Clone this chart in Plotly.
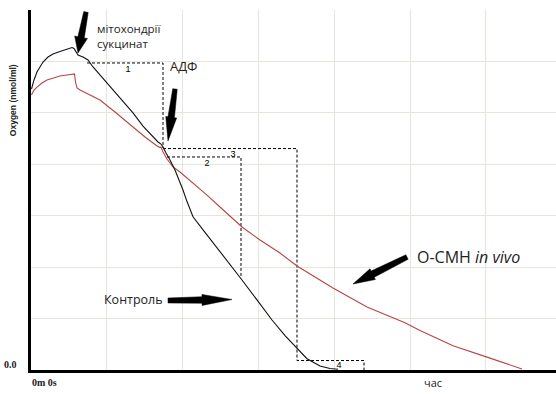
import math
import plotly.graph_objects as go

# ---- data (time in minutes, oxygen in nmol/ml) ----
control_t = [0.013, 0.079, 0.158, 0.317, 0.449, 0.580, 0.765, 0.950, 1.082, 1.135, 1.187, 1.240,
             1.372, 1.504, 1.636, 1.821, 2.084, 2.401, 2.691, 2.955, 3.219, 3.351, 3.430, 3.483,
             3.562, 3.668, 3.799, 3.931, 4.010, 4.114, 4.274, 4.565, 4.855, 5.198, 5.567,
             5.963, 6.359, 6.702, 7.018, 7.282, 7.625, 7.889, 8.100]
control_o2 = [273.2, 282.0, 289.7, 299.4, 304.3, 307.2, 309.6, 311.6, 313.5, 312.6, 309.2, 306.2,
              304.3, 301.4, 294.6, 286.9, 275.1, 262.5, 249.9, 237.2, 226.5, 221.7, 219.7, 216.8,
              210.9, 204.2, 194.4, 182.8, 175.0, 164.0, 149.0, 135.1, 121.5, 105.0, 87.5,
              68.1, 48.6, 33.5, 21.0, 11.0, 3.9, 1.5, 0.7]

ocmh_t = [0.013, 0.079, 0.158, 0.290, 0.422, 0.580, 0.765, 0.950, 1.108, 1.148, 1.174, 1.214,
          1.293, 1.557, 1.821, 2.216, 2.691, 3.008, 3.325, 3.404, 3.430, 3.483, 3.588, 3.747,
          3.931, 4.274, 4.644, 4.987, 5.567, 6.042, 6.570, 7.018, 7.625, 7.968, 8.865, 9.868,
          10.264, 11.135, 12.032, 12.955]
ocmh_o2 = [267.4, 272.2, 275.1, 279.0, 281.9, 283.9, 285.8, 286.8, 287.8, 287.8, 280.0, 274.2,
           272.2, 267.4, 262.5, 250.8, 236.2, 226.5, 217.8, 216.3, 216.8, 211.9, 205.1, 197.4,
           192.5, 181.8, 170.1, 158.5, 139.0, 126.4, 113.7, 101.1, 87.5, 79.7, 61.2, 46.0,
           38.5, 23.5, 12.5, 1.0]

# rate-measurement guide lines (state 1, state 3 / 2, state 4)
rate1_t = [1.478, 3.483, 3.483]
rate1_o2 = [298.5, 298.5, 215.8]
rate23_t = [3.588, 5.541, 5.541]
rate23_o2 = [207.1, 207.1, 89.4]
rate4_t = [3.483, 7.018, 7.018, 8.786, 8.786]
rate4_o2 = [215.3, 215.3, 9.2, 9.2, 0.0]

rate_labels = ["1", "2", "3", "4"]
rate_label_t = [2.559, 4.644, 5.330, 8.127]
rate_label_o2 = [291.7, 200.3, 209.0, 3.9]

X_RANGE = [0, 13.852]
Y_RANGE = [0, 350]

W, H = 556, 394
ML, MR, MT, MB = 31, 0, 10, 24
PW, PH = W - ML - MR, H - MT - MB

fig = go.Figure()

dash_style = dict(color="black", width=1, dash="3px,2px")
for tt, oo in [(rate1_t, rate1_o2), (rate23_t, rate23_o2), (rate4_t, rate4_o2)]:
    fig.add_trace(go.Scatter(x=tt, y=oo, mode="lines", line=dash_style,
                             hoverinfo="skip", showlegend=False))

fig.add_trace(go.Scatter(x=ocmh_t, y=ocmh_o2, mode="lines",
                         line=dict(color="#b84545", width=1.1), showlegend=False))
fig.add_trace(go.Scatter(x=control_t, y=control_o2, mode="lines",
                         line=dict(color="#111111", width=1.1), showlegend=False))

fig.add_trace(go.Scatter(x=rate_label_t, y=rate_label_o2, mode="text", text=rate_labels,
                         textfont=dict(family="Liberation Sans", size=9, color="black"),
                         showlegend=False, hoverinfo="skip"))


def px_to_paper(px, py):
    return (px - ML) / PW, (MT + PH - py) / PH


def arrow_shape(tail, tip, w_tail, w_neck, head_w, head_len):
    dx, dy = tip[0] - tail[0], tip[1] - tail[1]
    L = math.hypot(dx, dy)
    ux, uy = dx / L, dy / L
    nx, ny = -uy, ux
    neck = (tip[0] - ux * head_len, tip[1] - uy * head_len)
    pts = [
        (tail[0] + nx * w_tail / 2, tail[1] + ny * w_tail / 2),
        (neck[0] + nx * w_neck / 2, neck[1] + ny * w_neck / 2),
        (neck[0] + nx * head_w / 2, neck[1] + ny * head_w / 2),
        tip,
        (neck[0] - nx * head_w / 2, neck[1] - ny * head_w / 2),
        (neck[0] - nx * w_neck / 2, neck[1] - ny * w_neck / 2),
        (tail[0] - nx * w_tail / 2, tail[1] - ny * w_tail / 2),
    ]
    pp = [px_to_paper(*p) for p in pts]
    path = "M " + " L ".join(f"{a:.5f},{b:.5f}" for a, b in pp) + " Z"
    return dict(type="path", xref="paper", yref="paper", path=path,
                fillcolor="black", line=dict(color="black", width=0.5), layer="above")


shapes = [
    arrow_shape((86, 12), (78, 53), 4.5, 6.5, 13, 16),
    arrow_shape((175, 89), (168, 141), 4.5, 6.5, 11, 24),
    arrow_shape((168, 300.5), (232, 299.5), 5, 6.5, 11, 30),
    arrow_shape((407, 257), (353, 284), 5, 7, 12, 22),
]

annotations = [
    dict(x=1.689, y=325.0, text="мітохондрії<br>сукцинат", xanchor="left", yanchor="middle",
         align="left", showarrow=False, font=dict(family="Open Sans", size=11.5, color="#222222")),
    dict(x=3.615, y=295.5, text="АДФ", xanchor="left", yanchor="middle",
         showarrow=False, font=dict(family="Open Sans", size=13, color="#222222")),
    dict(x=1.873, y=68.1, text="Контроль", xanchor="left", yanchor="middle",
         showarrow=False, font=dict(family="Open Sans", size=12.5, color="#222222")),
    dict(x=10.132, y=109.9, text="О-СМН <i>in vivo</i>", xanchor="left", yanchor="middle",
         showarrow=False, font=dict(family="Open Sans", size=16, color="#222222")),
    # axis texts
    dict(xref="paper", yref="paper", x=-0.023, y=0.014, text="<b>0.0</b>", xanchor="right",
         yanchor="middle", showarrow=False,
         font=dict(family="Liberation Serif", size=10, color="#222222")),
    dict(xref="paper", yref="paper", x=-0.002, y=-0.036, text="<b>0m 0s</b>", xanchor="left",
         yanchor="middle", showarrow=False,
         font=dict(family="Liberation Serif", size=10, color="#222222")),
    dict(xref="paper", yref="paper", x=0.745, y=-0.036, text="час", xanchor="left",
         yanchor="middle", showarrow=False,
         font=dict(family="Open Sans", size=11, color="#222222")),
    dict(xref="paper", yref="paper", x=-0.034, y=0.750, text="<b>Oxygen (nmol/ml)</b>",
         textangle=-90, xanchor="center", yanchor="middle", showarrow=False,
         font=dict(family="Liberation Sans", size=8.5, color="#222222")),
]

fig.update_layout(
    width=W, height=H,
    margin=dict(l=ML, r=MR, t=MT, b=MB),
    paper_bgcolor="white", plot_bgcolor="white",
    annotations=annotations,
    shapes=shapes,
    showlegend=False,
)
fig.update_xaxes(range=X_RANGE, dtick=2, tick0=0, showgrid=True, gridcolor="#e6e6dc",
                 gridwidth=1, showticklabels=False, ticks="", zeroline=False,
                 showline=True, linecolor="black", linewidth=2.5)
fig.update_yaxes(range=Y_RANGE, dtick=50, tick0=0, showgrid=True, gridcolor="#e6e6dc",
                 gridwidth=1, showticklabels=False, ticks="", zeroline=False,
                 showline=True, linecolor="black", linewidth=3)

fig.write_html("out.html")
